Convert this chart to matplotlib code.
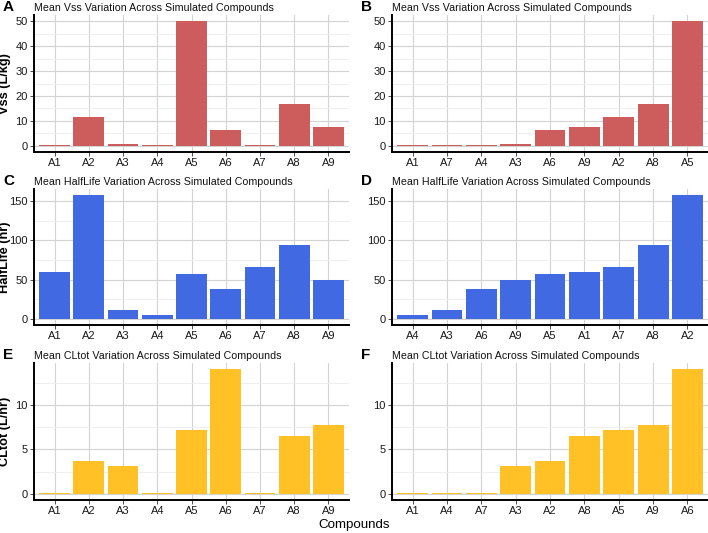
import numpy as np
import matplotlib.pyplot as plt
from matplotlib.ticker import MultipleLocator

compounds = ["A1", "A2", "A3", "A4", "A5", "A6", "A7", "A8", "A9"]
vss = [0.13, 11.4, 0.8, 0.45, 50.0, 6.3, 0.4, 16.8, 7.35]
halflife = [59.7, 157.6, 10.9, 4.6, 56.7, 37.4, 65.5, 93.7, 49.6]
cltot = [0.04, 3.7, 3.1, 0.04, 7.15, 14.0, 0.04, 6.5, 7.7]

params = [
    ("Vss", "Vss (L/kg)", vss, "#CD5C5C", 10, 5),
    ("HalfLife", "HalfLife (hr)", halflife, "#4169E1", 50, 25),
    ("CLtot", "CLtot (L/hr)", cltot, "#FFC125", 5, 2.5),
]
letters = [("A", "B"), ("C", "D"), ("E", "F")]

W, H = 708, 533
plt.rcParams["font.family"] = ["Liberation Sans", "DejaVu Sans"]
fig = plt.figure(figsize=(W / 100, H / 100), dpi=100)

rows = [(15, 152), (189, 325), (363, 500)]
cols = [(34, 349), (392, 708)]


def draw(ax, names, vals, color, major, minor, title):
    x = np.arange(1, len(names) + 1)
    ax.bar(x, vals, width=0.9, color=color, linewidth=0, zorder=3)
    top = max(vals)
    ax.set_ylim(-0.05 * top, top * 1.05)
    ax.set_xlim(0.4, len(names) + 0.6)
    ax.set_xticks(x)
    ax.set_xticklabels(names)
    ax.yaxis.set_major_locator(MultipleLocator(major))
    ax.yaxis.set_minor_locator(MultipleLocator(minor))
    ax.grid(which="major", color="#D3D3D3", linewidth=0.8, zorder=0)
    ax.grid(which="minor", axis="y", color="#EBEBEB", linewidth=0.6, zorder=0)
    for s in ["top", "right"]:
        ax.spines[s].set_visible(False)
    for s in ["left", "bottom"]:
        ax.spines[s].set_linewidth(1.4)
        ax.spines[s].set_color("black")
    ax.tick_params(axis="both", which="major", labelsize=8, length=3, width=0.6,
                   color="#333333", labelcolor="#1A1A1A", pad=1.5)
    ax.tick_params(axis="y", which="minor", length=0)
    ax.set_title(title, loc="left", fontsize=7.7, pad=3, color="#111111")


for r, (name, ylabel, vals, color, major, minor) in enumerate(params):
    y0, y1 = rows[r]
    title = f"Mean {name} Variation Across Simulated Compounds"
    for c in range(2):
        x0, x1 = cols[c]
        ax = fig.add_axes([x0 / W, 1 - y1 / H, (x1 - x0) / W, (y1 - y0) / H])
        if c == 0:
            names, v = compounds, vals
        else:
            order = np.argsort(vals, kind="stable")
            names = [compounds[i] for i in order]
            v = [vals[i] for i in order]
        draw(ax, names, v, color, major, minor, title)
        if c == 0:
            ax.set_ylabel(ylabel, fontsize=9.2, fontweight="bold")
            ax.yaxis.set_label_coords((11 - x0) / (x1 - x0), 0.5)
        fig.text((x0 - 31) / W, 1 - (y0 - 8) / H, letters[r][c], fontsize=11,
                 fontweight="bold", va="center", ha="left")

fig.text(354 / W, 1 - 525 / H, "Compounds", fontsize=9.6, ha="center", va="center")

fig.savefig("out.png", dpi=100)
